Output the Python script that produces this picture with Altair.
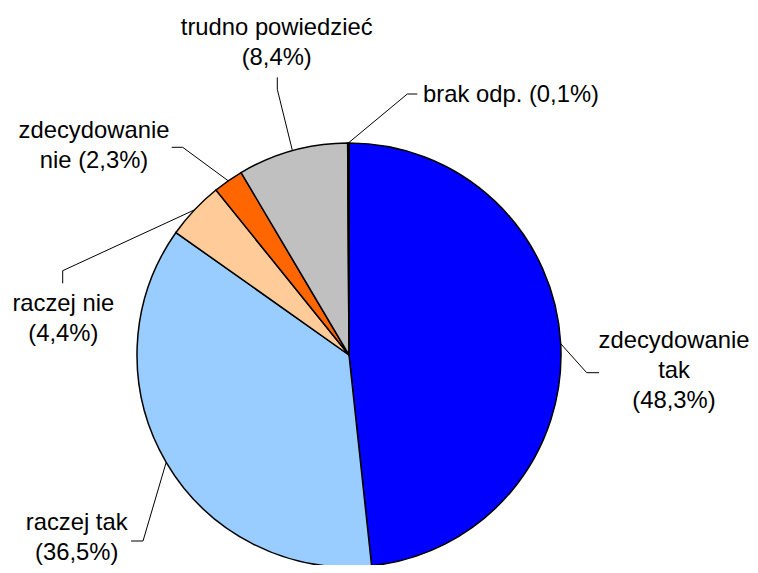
import math
import altair as alt
import pandas as pd

# ---- data ----
categories = ["zdecydowanie tak", "raczej tak", "raczej nie",
              "zdecydowanie nie", "trudno powiedzieć", "brak odp."]
values = [48.3, 36.5, 4.4, 2.3, 8.4, 0.1]
label_texts = ["zdecydowanie\ntak\n(48,3%)", "raczej tak\n(36,5%)", "raczej nie\n(4,4%)",
               "zdecydowanie\nnie (2,3%)", "trudno powiedzieć\n(8,4%)", "brak odp. (0,1%)"]
colors = ["#0000FF", "#99CCFF", "#FFCC99", "#FF6600", "#C0C0C0", "#FFFFFF"]

# ---- layout (plot-area pixels) ----
W, H = 742, 557
CX, CY, R = 341, 347, 212
label_anchor = [(666, 339.7), (68.7, 522), (55.3, 303), (86, 130.3), (268.7, 27), (503, 93.7)]
leader_elbow = [(578.7, 364.7), (135, 533), (54.7, 262.7), (174.7, 139.3), (269.3, 81.3), (399.3, 86)]
leader_end = [(591, 364.7), (123, 533), (54.7, 275.3), (163.7, 139.3), (269.3, 69.3), (409.3, 86)]

pie = pd.DataFrame({"cat": categories, "value": values, "idx": list(range(len(values)))})

total = sum(values)
rows = []
cum = 0.0
for i, (c, v) in enumerate(zip(categories, values)):
    frac = (cum + v / 2) / total
    cum += v
    th = 2 * math.pi * frac
    ex, ey = CX + R * math.sin(th), CY - R * math.cos(th)
    pts = [(ex, ey), leader_elbow[i], leader_end[i]]
    for k, (px, py) in enumerate(pts):
        rows.append({"cat": c, "pt": k, "x": px, "y": py})
lines_df = pd.DataFrame(rows)

text_df = pd.DataFrame({
    "cat": categories,
    "label": label_texts,
    "x": [a[0] for a in label_anchor],
    "y": [a[1] for a in label_anchor],
})

xs = alt.Scale(domain=[0, W], nice=False, zero=False)
ys = alt.Scale(domain=[0, H], nice=False, zero=False, reverse=True)

arcs = alt.Chart(pie).mark_arc(radius=R, stroke="black", strokeWidth=1.5).encode(
    theta=alt.Theta("value:Q", stack=True),
    color=alt.Color("cat:N", scale=alt.Scale(domain=categories, range=colors), legend=None),
    order=alt.Order("idx:Q"),
    x=alt.value(CX),
    y=alt.value(CY),
)

leaders = alt.Chart(lines_df).mark_line(color="black", strokeWidth=1).encode(
    x=alt.X("x:Q", scale=xs, axis=None),
    y=alt.Y("y:Q", scale=ys, axis=None),
    detail="cat:N",
    order="pt:Q",
)

texts = alt.Chart(text_df).mark_text(
    font="Liberation Sans", fontSize=23.8, color="black", align="center",
    baseline="alphabetic", lineBreak="\n", lineHeight=30,
).encode(
    x=alt.X("x:Q", scale=xs, axis=None),
    y=alt.Y("y:Q", scale=ys, axis=None),
    text="label:N",
)

chart = alt.layer(arcs, leaders, texts).properties(
    width=W, height=H, padding=0, autosize=alt.AutoSizeParams(type="none"),
    background="white",
).configure_view(stroke=None)

chart.save("out.html", embed_options={"renderer": "svg", "actions": False})
